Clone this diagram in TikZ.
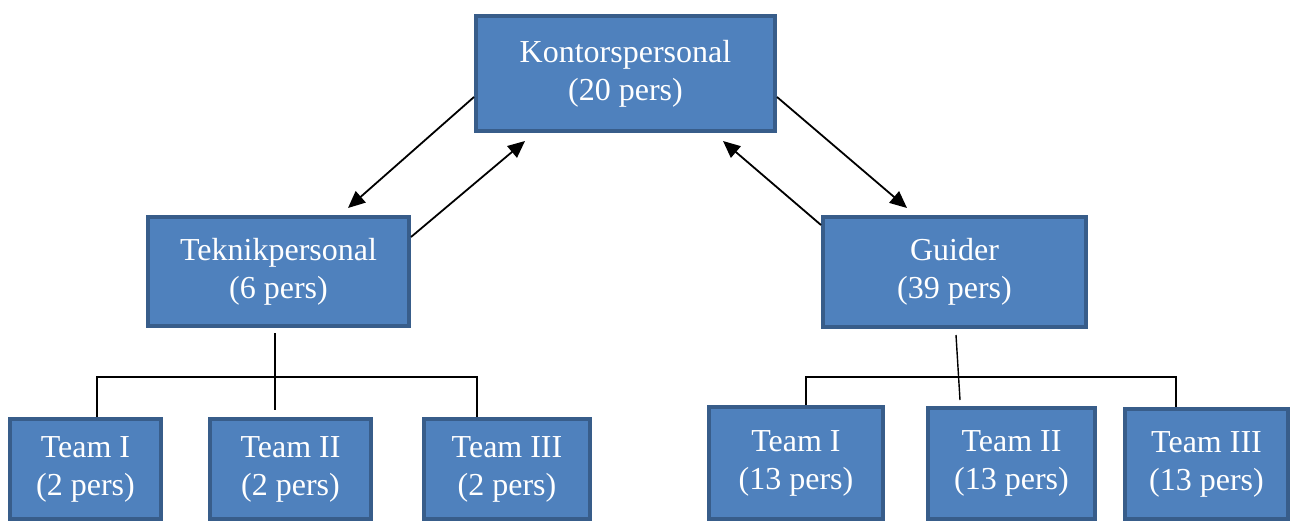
\documentclass[tikz,border=0pt]{standalone}
\usepackage{fontspec}
\setmainfont{Liberation Serif}
\usetikzlibrary{arrows.meta,calc}
\definecolor{boxfill}{HTML}{4F81BD}
\definecolor{boxline}{HTML}{385D8A}
\tikzset{
  orgbox/.style={draw=boxline, fill=boxfill, line width=4pt, text=white,
    align=center, inner sep=0pt, font=\fontsize{32}{38}\selectfont},
  twoway/.style={line width=1.8pt, -{Triangle[length=17pt,width=15pt]}},
  tree/.style={line width=1.4pt}
}
\begin{document}
\begin{tikzpicture}[x=1pt,y=-1pt]
\useasboundingbox (0,0) rectangle (1293,522);
% boxes: outer size = minimum size + line width
\node[orgbox, minimum width=299pt, minimum height=115pt] (K) at (625.5,73.5) {Kontorspersonal\\(20 pers)};
\node[orgbox, minimum width=261pt, minimum height=109pt] (T) at (278.5,271.5) {Teknikpersonal\\(6 pers)};
\node[orgbox, minimum width=263pt, minimum height=110pt] (G) at (954.5,272) {Guider\\(39 pers)};
\node[orgbox, minimum width=151pt, minimum height=100pt] (L1) at (85.5,469) {Team I\\(2 pers)};
\node[orgbox, minimum width=161pt, minimum height=100pt] (L2) at (290.5,469) {Team II\\(2 pers)};
\node[orgbox, minimum width=166pt, minimum height=100pt] (L3) at (507,469) {Team III\\(2 pers)};
\node[orgbox, minimum width=174pt, minimum height=112pt] (R1) at (796,463) {Team I\\(13 pers)};
\node[orgbox, minimum width=167pt, minimum height=111pt] (R2) at (1011.5,463.5) {Team II\\(13 pers)};
\node[orgbox, minimum width=163pt, minimum height=110pt] (R3) at (1206.5,464) {Team III\\(13 pers)};
% two-way arrows
\draw[twoway] ([yshift=-23.5pt]K.west) -- ([xshift=69.5pt,yshift=7pt]T.north);
\draw[twoway] ([yshift=34.5pt]T.east) -- ([xshift=-100.5pt,yshift=-8pt]K.south);
\draw[twoway] ([yshift=-23.5pt]K.east) -- ([xshift=-47.5pt,yshift=7pt]G.north);
\draw[twoway] ([yshift=-10pt]G.north west) -- ([xshift=97.5pt,yshift=-8pt]K.south);
% left tree
\draw[tree] ([xshift=-3.5pt,yshift=-5pt]T.south) -- ([xshift=-15.5pt,yshift=7pt]L2.north);
\draw[tree] ([xshift=11.5pt]L1.north) -- ++(0,-40) -| ([xshift=-30pt]L3.north);
% right tree
\draw[tree] ([xshift=1.5pt,yshift=-6pt]G.south) -- ([xshift=-51.5pt,yshift=6pt]R2.north);
\draw[tree] ([xshift=10pt]R1.north) -- ++(0,-28) -| ([xshift=-30.5pt]R3.north);
\end{tikzpicture}
\end{document}
